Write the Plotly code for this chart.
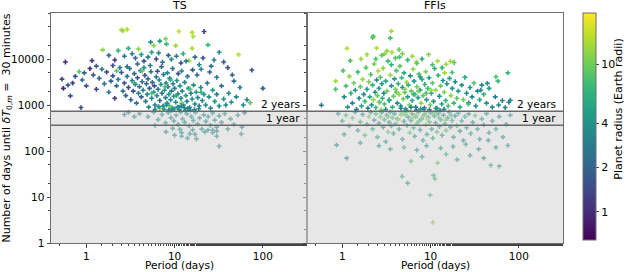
import math
import plotly.graph_objects as go

# ---------------- data ----------------
ts_period = [2.5, 2.6, 2.9, 11.2, 15.8, 16.2, 21.6, 7.9, 6.8, 5.35, 8.1, 10.3, 5.8, 15.8, 23.9, 32, 53, 36, 14.6, 3.9,
             3.0, 2.3, 1.53, 0.58, 1.16, 0.83, 0.53, 0.55, 0.66, 0.87, 100, 75, 72, 66,
             1.8, 2.1, 2.7, 3.3, 3.6, 4.2, 4.5, 5.0, 5.5, 6.2, 6.6, 7.3, 8.5, 9.2, 10.5, 11.8, 12.5, 13.5, 17, 19, 21,
             26, 28, 1.3, 1.5, 2.0, 2.4, 1.1, 0.95, 0.75, 0.7, 0.62, 0.9, 1.0,
             1.2, 1.4, 1.3, 1.6, 1.7, 1.9, 1.8, 2.0, 2.2, 2.1, 2.3, 2.5, 2.6, 2.7, 2.8, 2.9, 3.0, 3.1, 3.2, 3.3, 3.4,
             3.5, 3.6, 3.7, 3.8, 3.9, 4.0, 4.1, 4.2, 4.3, 4.4, 4.6, 4.7, 4.8, 4.9, 5.0, 5.1, 5.2, 5.4, 5.5, 5.6, 5.8,
             5.9, 6.0, 6.2, 6.3, 6.5, 6.7, 6.8, 7.0, 7.2, 7.4, 7.5, 7.7, 7.9, 8.0, 8.2, 8.4, 8.6, 8.8, 9.0, 9.2, 9.4,
             9.6, 9.8, 10.0, 10.3, 10.6, 10.9, 11.2, 11.5, 11.8, 12.2, 12.6, 13.0, 13.4, 13.8, 14.3, 14.8, 15.3, 15.8,
             16.4, 17.0, 17.6, 18.3, 19.0, 19.8, 20.6, 21.5, 22.5, 23.5, 24.5, 25.6, 27, 28.5, 30, 32, 34, 36, 38, 41,
             44, 47, 50, 55, 60, 45, 40, 30, 25, 20, 18, 16, 14, 12, 11, 9.5, 8.3, 7.1, 6.4, 5.3, 4.5, 3.8, 2.9,
             4.3, 3.5, 7.8, 10.5, 12, 6.8, 9, 15, 2.2, 5.5, 20, 8.8,
             6.0, 8.6, 9.9, 11.3, 13.2, 14.1, 10.8, 12.9, 7.6, 16.8, 18.8, 9.3, 11.9, 8.1, 15.1, 6.6,
             4.0, 5.0, 5.8, 6.5, 7.2, 7.9, 8.5, 9.1, 9.8, 10.4, 11.0, 11.7, 12.3, 13.0, 13.8, 14.6, 15.5, 16.3, 17.2,
             18.2, 19.2, 20.3, 21.4, 22.6, 24, 25.5, 27, 28.5, 30, 32, 32, 34, 37, 40, 43, 47, 52, 58, 62, 3.0, 3.5,
             2.7, 6.0, 8.0, 9.5, 12.0, 14.0, 17.0, 22, 27, 30, 57, 12, 16, 10, 11.5, 14.9, 17.7, 23.9, 27, 30]
ts_days = [43000, 41000, 44000, 39600, 38000, 30800, 39600, 27500, 24500, 23300, 21100, 19500, 19500, 17000, 20300,
           14000, 12500, 8600, 9200, 16500, 17000, 15200, 15800, 8600, 9200, 5300, 3650, 2300, 1580, 880, 2300, 5750,
           1120, 1300,
           12000, 9500, 11500, 13000, 10500, 12500, 9000, 11000, 14000, 10000, 13500, 8500, 12000, 9800, 11500, 8200,
           13000, 9000, 11000, 7500, 10500, 7000, 9500, 7000, 6000, 7200, 6500, 6200, 5000, 4200, 3000, 2700, 3500,
           2600,
           4500, 3800, 2200, 2900, 5200, 3300, 1900, 4300, 2600, 1400, 3600, 5100, 2000, 3000, 1600, 4200, 2400, 6200,
           1300, 3400, 2000, 4800, 2800, 1100, 3900, 1800, 2500, 5600, 1500, 3200, 2100, 4400, 1200, 2900, 1700, 3700,
           900, 2300, 5300, 1400, 3100, 1900, 2600, 1000, 4100, 1600, 2200, 3500, 1250, 2800, 1800, 950, 4600, 2100,
           1450, 3000, 1100, 2500, 1700, 3800, 1300, 2000, 850, 2900, 1550, 2300, 1150, 3400, 1750, 900, 2600, 1400,
           2000, 1000, 3100, 1600, 1200, 2300, 880, 1800, 1350, 2700, 1050, 1900, 1450, 950, 2400, 1250, 1700, 1000,
           3000, 1500, 850, 2100, 1200, 1700, 950, 2600, 1350, 1000, 1800, 1150, 3300, 1500, 2400, 1000, 4500, 6500,
           4000, 5200, 6000, 4500, 5800, 4200, 5500, 4800, 6200, 5000, 6800, 5400, 7200, 6500, 7800, 6800,
           5500, 3000, 2500, 1600, 1100, 850, 3500, 2200, 5500, 1800, 1900, 960,
           800, 780, 820, 790, 760, 840, 900, 870, 810, 790, 830, 760, 950, 1000, 770, 920,
           650, 560, 700, 480, 620, 410, 680, 530, 450, 600, 380, 700, 500, 420, 640, 350, 560, 460, 690, 390, 520,
           300, 610, 440, 560, 360, 670, 470, 330, 127, 580, 420, 650, 300, 500, 380, 600, 330, 680, 690, 560, 620,
           360, 260, 310, 250, 190, 230, 260, 250, 210, 235, 210, 290, 220, 295, 237, 184, 285, 285, 270]
ts_radius = [14, 13, 15, 16, 15, 14, 1.3, 11, 4.5, 3.5, 7, 13, 12, 14, 7, 4, 14, 1.8, 13, 12, 6, 7, 12, 1.0, 1.3, 9,
             1.4, 0.9, 1.6, 1.5, 1.8, 1.7, 9, 3,
             2.2, 1.2, 2.5, 3.5, 2.0, 4.5, 1.6, 2.8, 5, 1.4, 3.2, 2.4, 1.9, 3.8, 2.6, 1.5, 6, 2.9, 2.2, 3.4, 1.7, 2.5,
             3.1, 1.8, 2.6, 1.5, 3.0, 1.0, 2.0, 1.6, 1.2, 1.9, 2.3, 1.6,
             1.7, 2.1, 1.4, 2.4, 1.3, 1.9, 2.8, 1.6, 2.2, 1.2, 3.1, 1.8, 2.6, 1.5, 2.0, 2.9, 1.4, 2.3, 1.9, 3.3, 1.6,
             2.1, 2.7, 2.4, 1.5, 3.0, 2.2, 3.6, 1.8, 2.5, 3.2, 1.7, 2.9, 2.0, 3.5, 2.4, 3.1, 1.9, 2.6, 3.4, 2.2, 3.8,
             1.6, 3.0, 2.5, 3.3, 2.8, 3.9, 2.1, 3.6, 2.4, 3.2, 2.7, 4.0, 2.9, 3.3, 3.7, 2.3, 4.2, 3.0, 3.5, 2.6, 3.9,
             3.1, 4.4, 2.8, 3.4, 3.8, 2.5, 3.6, 4.1, 3.2, 3.7, 2.9, 3.3, 4.5, 3.0, 3.9, 3.4, 2.7, 4.0, 3.5, 3.1, 4.2,
             3.6, 2.9, 3.8, 3.3, 4.1, 3.5, 2.6, 3.9, 3.2, 3.6, 4.3, 3.0, 3.7, 2.4, 3.9, 3.3, 3.5, 4.0, 2.2, 3.4, 3.1,
             3.8, 2.0, 1.6, 2.7, 1.9, 3.5, 2.1, 1.8, 2.6, 3.1, 1.7, 2.3, 3.4, 2.0, 1.6, 2.8, 4.0, 1.9, 2.4,
             9, 7, 8, 6, 10, 12, 6.5, 8, 9, 7.5, 6, 9,
             3.6, 3.3, 3.9, 3.4, 3.7, 3.2, 3.8, 3.5, 4.0, 3.4, 3.6, 3.9, 3.3, 3.7, 3.5, 3.8,
             3.2, 3.5, 3.0, 3.8, 3.4, 4.0, 3.1, 3.6, 3.3, 3.9, 3.5, 3.0, 4.2, 3.4, 3.7, 3.1, 4.0, 3.6, 3.3, 3.8, 3.2,
             3.5, 3.9, 3.4, 3.7, 3.0, 3.6, 4.1, 3.3, 3.8, 3.5, 3.2, 3.9, 3.4, 3.6, 3.1, 3.8, 3.3, 2.0, 2.8, 3.6, 3.0,
             4.3, 3.5, 3.8, 3.4, 3.6, 3.2, 3.9, 3.4, 3.6, 3.5, 3.7, 3.2, 3.5, 3.6, 3.4, 3.8, 3.5, 3.7, 3.3]

ffi_period = [3.6, 2.24, 2.2, 3.5, 1.13, 2.44, 1.23, 1.63, 3.0, 3.65, 4.44, 6.9, 16.8, 18.5, 15, 14.4, 17.5, 7.6,
              55, 58, 75, 44, 37, 1.02, 0.84, 0.84, 0.58, 80, 77, 70, 27,
              2.8, 3.2, 4.0, 4.8, 5.5, 6.2, 7.0, 8.0, 9.5, 10.5, 12, 13.5, 4.4, 3.6, 2.4, 1.9,
              1.05, 1.1, 1.15, 1.2, 1.25, 1.3, 1.35, 1.4, 1.45, 1.5, 1.55, 1.6, 1.65, 1.7, 1.75, 1.8, 1.85, 1.9, 1.95,
              2.0, 2.05, 2.1, 2.15, 2.2, 2.25, 2.3, 2.35, 2.4, 2.45, 2.5, 2.55, 2.6, 2.65, 2.7, 2.75, 2.8, 2.85, 2.9,
              2.95, 3.0, 3.1, 3.2, 3.3, 3.4, 3.5, 3.6, 3.7, 3.8, 3.9, 4.0, 4.1, 4.2, 4.3, 4.4, 4.5, 4.6, 4.7, 4.8, 4.9,
              5.0, 5.1, 5.2, 5.35, 5.5, 5.6, 5.75, 5.9, 6.05, 6.2, 6.35, 6.5, 6.65, 6.8, 7.0, 7.2, 7.4, 7.6, 7.8, 8.0,
              8.2, 8.4, 8.6, 8.8, 9.0, 9.3, 9.6, 9.9, 10.2, 10.5, 10.8, 11.1, 11.4, 11.8, 12.2, 12.6, 13, 13.4, 13.8,
              14.3, 14.8, 15.3, 15.8, 16.4, 17, 17.6, 18.3, 19, 19.8, 20.6, 21.5, 22.5, 23.5, 24.5, 25.6, 26.8, 28,
              29.5, 31, 32.5, 34, 36, 38, 40, 43, 46, 50, 54, 59, 65,
              3.1, 4.6, 5.3, 6.0, 6.9, 7.7, 8.5, 9.7, 11.5, 12.8, 14.2, 4.1, 5.1, 6.4, 7.3, 8.9, 10.1, 3.4, 2.6,
              0.86, 1.12, 4.76, 5.5, 9.9, 10.6, 10.8, 11.2, 48, 60, 75,
              0.9, 1.0, 1.1, 1.2, 1.3, 1.4, 1.5, 1.6, 1.7, 1.8, 1.9, 2.0, 2.1, 2.2, 2.3, 2.4, 2.5, 2.6, 2.7, 2.8, 2.9,
              3.0, 3.1, 3.2, 3.3, 3.4, 3.5, 3.6, 3.7, 3.8, 3.9, 4.0, 4.2, 4.4, 4.6, 4.8, 5.0, 5.2, 5.4, 5.6, 5.8, 6.0,
              6.2, 6.4, 6.6, 6.8, 7.0, 7.3, 7.6, 7.9, 8.2, 8.5, 8.8, 9.1, 9.4, 9.7, 10, 10.3, 10.6, 11, 11.4, 11.8,
              12.2, 12.6, 13, 13.5, 14, 14.5, 15, 15.6, 16.2, 16.8, 17.5, 18.2, 19, 19.8, 20.6, 21.5, 22.5, 23.5, 24.5,
              25.6, 27, 28.5, 30, 32, 34, 36, 38, 40, 43, 46, 50, 55, 60, 66, 72, 80,
              1.05, 1.6, 2.6, 3.5, 5.0, 7.0, 9.0, 13, 18, 25, 35, 45, 55, 6, 8, 12, 20, 28, 15, 40,
              3.3, 4.3, 5.2, 6.3, 7.4, 8.3, 9.2, 10.7, 12.4, 14.8, 17.1, 4.7, 5.9, 8.7, 11.6, 6.9]
ffi_days = [40300, 31000, 29000, 28500, 17000, 17300, 9200, 10000, 12900, 14000, 11000, 8600, 8900, 8400, 7700,
            5000, 5100, 4100, 4100, 3300, 5000, 2950, 2100, 5600, 2200, 3300, 990, 1270, 1150, 880, 1120,
            12000, 15000, 10500, 13000, 9500, 11500, 8000, 10000, 12500, 7500, 9000, 6500, 16000, 7500, 10000, 12500,
            1500, 2600, 900, 4200, 1800, 1100, 3000, 2100, 800, 5200, 1400, 2500, 950, 3600, 1700, 1200, 6500, 2200,
            850, 3200, 1500, 4600, 1000, 2700, 1300, 7800, 1900, 880, 3500, 1600, 5500, 2300, 1150, 4000, 780, 2900,
            1400, 6300, 1800, 1050, 3300, 2000, 9000, 1250, 4500, 2600, 900, 1550, 3700, 2200, 5600, 1100, 2900,
            1700, 7000, 950, 3900, 2400, 1350, 5000, 1900, 820, 3100, 1500, 2700, 1000, 4300, 2000, 1250, 6000, 3300,
            1700, 900, 2500, 1450, 4700, 2100, 1100, 3600, 1600, 800, 2800, 5300, 1300, 2300, 3900, 1000, 1800, 3000,
            1200, 6200, 2100, 850, 4400, 1550, 2600, 1050, 3400, 1900, 1250, 2900, 950, 3800, 1600, 2300, 1100, 3200,
            1400, 2000, 900, 2700, 1300, 4000, 1800, 1050, 2400, 1500, 3000, 950, 2000, 1300, 2700, 1700, 1100, 2300,
            900, 1500, 1000, 1250,
            800, 850, 760, 900, 780, 820, 870, 790, 840, 760, 810, 1900, 2200, 1700, 2000, 1800, 2100, 1300, 1150,
            134, 70, 28, 20, 11, 2.8, 29.5, 25, 49, 46.5, 132,
            650, 450, 600, 350, 520, 700, 280, 430, 620, 220, 380, 560, 700, 300, 470, 640, 200, 400, 550, 690, 330,
            480, 160, 600, 260, 420, 700, 350, 530, 240, 650, 390, 500, 300, 610, 180, 440, 690, 360, 540, 250, 460,
            640, 320, 210, 560, 400, 700, 290, 500, 170, 620, 370, 230, 540, 430, 680, 300, 190, 580, 410, 260, 650,
            340, 480, 220, 600, 390, 280, 520, 700, 330, 460, 200, 580, 350, 660, 270, 450, 170, 560, 320, 640, 240,
            420, 590, 300, 180, 500, 370, 650, 250, 450, 300, 560, 200, 380, 600,
            230, 150, 130, 110, 120, 105, 130, 115, 125, 140, 110, 170, 120, 60, 75, 55, 65, 80, 85, 70,
            560, 480, 610, 520, 450, 580, 490, 640, 530, 470, 600, 680, 710, 660, 700, 590]
ffi_radius = [14, 8, 9, 7.5, 15, 14, 8, 13, 12, 14, 8, 13, 14, 9, 13, 14, 8, 3.8, 8, 7, 7, 3.6, 3.4, 8, 8, 14, 2.6,
              3.4, 3.2, 3.0, 3.5,
              9, 12, 8, 11, 7, 13, 9, 6, 11, 8, 14, 7, 10, 6, 8, 13,
              3.5, 8, 4, 12, 6, 3.2, 10, 4.5, 2.6, 7, 3.8, 9, 5, 13, 3.4, 7.5, 9, 4.2, 3.0, 11, 5.5, 8, 3.6, 6.5, 12, 10,
              4.0, 7, 3.3, 9.5, 14, 5, 3.9, 8.5, 11, 4.4, 6, 12, 3.5, 8, 5.5, 10, 7, 4.1, 13, 3.7, 6.5, 9, 4.6, 11, 8,
              3.4, 6, 12.5, 9, 4.3, 7, 3.6, 10.5, 5.5, 8.5, 3.9, 13, 4.7, 6.8, 11, 3.8, 9.5, 5.2, 12, 4.0, 7.5, 3.3, 10,
              4.8, 8, 3.6, 12, 5.8, 9, 4.2, 6.5, 11, 3.7, 7.5, 4.5, 10, 5.5, 8.5, 3.9, 6, 12, 4.3, 7, 3.5, 9.5, 5, 4.0,
              11, 6.5, 3.8, 8, 5.2, 12, 4.4, 7, 3.6, 9, 4.8, 6, 3.9, 10, 5, 3.5, 7.5, 4.2, 3.3, 8, 4.0, 3.6, 5.5, 3.2,
              6.5, 3.8, 4.5, 3.4, 3.0, 3.6, 3.3,
              3.4, 3.1, 3.7, 3.2, 2.9, 3.5, 3.0, 3.3, 3.6, 3.1, 3.4, 9, 12, 7, 10, 8, 13, 6, 11,
              3.5, 3.3, 6, 5, 8, 12, 6.5, 7, 6, 4, 3.5,
              3.8, 4.5, 7, 3.6, 9, 3.4, 4.2, 6, 3.7, 8, 4.0, 11, 3.5, 5.5, 3.9, 7.5, 4.3, 3.6, 9, 4.1, 3.8, 6.5, 4.4,
              3.7, 10, 4.0, 5, 3.5, 8, 4.2, 3.9, 6, 4.5, 3.6, 12, 4.0, 3.8, 7, 4.3, 3.7, 9, 4.1, 3.9, 5.5, 3.6, 4.4, 8,
              3.8, 4.2, 6.5, 4.0, 3.7, 11, 4.3, 3.9, 7, 4.1, 3.6, 5, 4.4, 3.8, 9, 4.0, 3.7, 6, 4.2, 3.9, 4.5, 8, 3.6,
              4.3, 3.8, 5.5, 4.1, 3.7, 7, 4.0, 3.6, 4.4, 3.9, 6, 4.2, 3.8, 4.5, 3.7, 8, 4.0, 3.6, 4.3, 3.9, 3.5, 4.1,
              3.7, 4.4, 3.6, 3.8, 3.3, 3.5,
              3.9, 4.2, 3.8, 5, 6.5, 4.0, 3.7, 4.4, 3.9, 4.2, 3.6, 3.8, 4.0, 8, 4, 9, 4.2, 3.7, 6, 3.5,
              9, 11, 8, 12, 7, 10, 13, 9, 8, 11, 7, 10, 12, 9, 8, 11]

period_ticks = [1, 10, 100]
period_tick_labels = ["1", "10", "100"]
days_ticks = [1, 10, 100, 1000, 10000]
days_tick_labels = ["1", "10", "100", "1000", "10000"]
radius_ticks = [1, 2, 4, 10]
radius_tick_labels = ["1", "2", "4", "10"]
limit_days = [730, 365]
limit_labels = ["2 years", "1 year"]
panel_titles = ["TS", "FFIs"]

# ---------------- figure ----------------
FONT = "DejaVu Sans"
fig = go.Figure()

fig.add_trace(go.Scatter(
    x=ts_period, y=ts_days, mode="markers", xaxis="x", yaxis="y", showlegend=False,
    marker=dict(symbol="cross", size=4, color=[math.log10(r) for r in ts_radius],
                coloraxis="coloraxis", line=dict(width=0)),
))
fig.add_trace(go.Scatter(
    x=ffi_period, y=ffi_days, mode="markers", xaxis="x2", yaxis="y2", showlegend=False,
    marker=dict(symbol="cross", size=4, color=[math.log10(r) for r in ffi_radius],
                coloraxis="coloraxis", line=dict(width=0)),
))

axis_common = dict(type="log", showgrid=False, zeroline=False, showline=True, mirror=True,
                   linecolor="#6e6e6e", linewidth=1, ticks="outside", ticklen=3.5, tickcolor="#444",
                   tickfont=dict(family=FONT, size=10.5, color="black"), automargin=False,
                   minor=dict(ticks="outside", ticklen=2, tickcolor="#444", showgrid=False))

fig.update_layout(
    width=627, height=272,
    margin=dict(l=51, r=64, t=13, b=29, autoexpand=False),
    paper_bgcolor="white", plot_bgcolor="white",
    font=dict(family=FONT, size=11, color="black"),
    xaxis=dict(axis_common, domain=[0, 0.5], range=[-0.4, 2.5], anchor="y",
               tickvals=period_ticks, ticktext=period_tick_labels),
    xaxis2=dict(axis_common, domain=[0.5, 1.0], range=[-0.4, 2.5], anchor="y2",
                tickvals=period_ticks, ticktext=period_tick_labels),
    yaxis=dict(axis_common, range=[0, 5], anchor="x",
               tickvals=days_ticks, ticktext=days_tick_labels,
               title=dict(text="Number of days until <i>δT</i><sub>0,<i>m</i></sub> =  30 minutes",
                          standoff=4, font=dict(family=FONT, size=11))),
    yaxis2=dict(axis_common, range=[0, 5], anchor="x2", matches="y",
                tickvals=days_ticks, showticklabels=False),
    coloraxis=dict(
        colorscale="Viridis", cmin=-0.19, cmax=1.347,
        colorbar=dict(
            x=1.039, xanchor="left", xref="paper", xpad=0, ypad=0,
            y=1.0, yanchor="top", len=0.985, lenmode="fraction",
            thickness=13, outlinecolor="#6e6e6e", outlinewidth=1,
            ticks="outside", ticklen=3, tickcolor="#444",
            tickvals=[math.log10(v) for v in radius_ticks], ticktext=radius_tick_labels,
            tickfont=dict(family=FONT, size=11, color="black"),
        ),
    ),
)

# shaded region below two years (drawn above points so they appear faded)
fig.add_shape(type="rect", xref="paper", yref="y", x0=0, x1=1, y0=1, y1=limit_days[0],
              fillcolor="rgba(211,211,211,0.55)", line=dict(width=0), layer="above")
for d in limit_days:
    fig.add_shape(type="line", xref="paper", yref="y", x0=0, x1=1, y0=d, y1=d,
                  line=dict(color="#6a6a6a", width=1.5), layer="above")

for xr in [0.491, 0.991]:
    for d, lab in zip(limit_days, limit_labels):
        fig.add_annotation(x=xr, xref="paper", y=math.log10(d), yref="y", text=lab,
                           showarrow=False, xanchor="right", yanchor="bottom", yshift=-1,
                           font=dict(family=FONT, size=10.5, color="black"))

for xc, t in zip([0.25, 0.75], panel_titles):
    fig.add_annotation(x=xc, xref="paper", y=1, yref="paper", text=t, showarrow=False,
                       xanchor="center", yanchor="bottom", yshift=-1,
                       font=dict(family=FONT, size=11, color="black"))

# x axis titles
for xc in [0.25, 0.75]:
    fig.add_annotation(x=xc, xref="paper", y=0, yref="paper", text="Period (days)", showarrow=False,
                       xanchor="center", yanchor="bottom", yshift=-29, borderpad=0,
                       font=dict(family=FONT, size=10.5, color="black"))

# colour bar title
fig.add_annotation(x=1.109, xref="paper", y=0.583, yref="paper", text="Planet radius (Earth radii)",
                   showarrow=False, textangle=-90, xanchor="center", yanchor="middle",
                   font=dict(family=FONT, size=11, color="black"))

fig.write_html("out.html", config={"displayModeBar": False},
               post_script="document.body.style.margin='0px';")
